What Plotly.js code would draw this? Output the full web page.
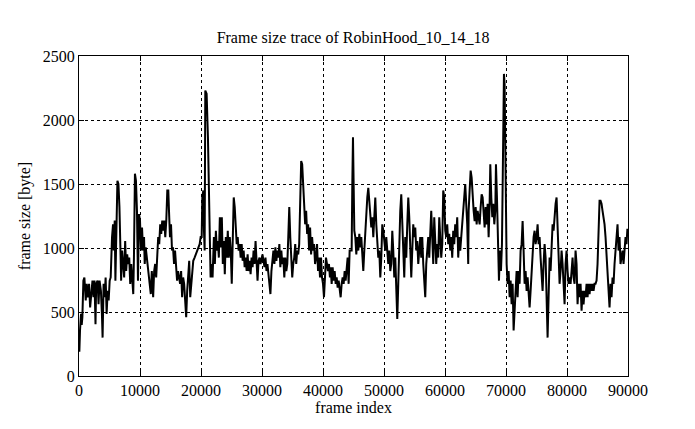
<!DOCTYPE html>
<html>
<head>
<meta charset="utf-8">
<script src="https://cdn.plot.ly/plotly-3.0.1.min.js"></script>
<style>html,body{margin:0;padding:0;background:#fff;}#chart{width:695px;height:429px;}</style>
</head>
<body>
<div id="chart"></div>
<script>
var chartTitle = "Frame size trace of RobinHood_10_14_18";
var xLabel = "frame index";
var yLabel = "frame size [byte]";
var xTicks = [0,10000,20000,30000,40000,50000,60000,70000,80000,90000];
var yTicks = [0,500,1000,1500,2000,2500];

var frames = [
0,55,166,331,442,552,718,884,1105,1271,1436,1657,1823,1989,2210,2376,2541,2707,2818,3039,3204,3370,3591,3757,3867,4033,4199,4365,4530,4696,4862,5028,5193,5414,5580,5691,5856,5967,6133,6298,6464,6630,6796,6906,7072,7238,7403,7569,7735,7900,8066,8232,8398,8564,8785,8895,9006,9171,9337,9503,9669,9834,10000,10166,10332,10497,10663,10774,10940,11105,11271,11437,11602,11768,11934,12155,12320,12486,12652,12818,12984,13150,13315,13481,13647,13813,13978,14144,14310,14476,14641,14752,14918,15083,15249,15415,15581,15746,15912,16078,16244,16409,16575,16741,16906,17072,17238,17404,17570,17735,17901,18067,18232,18398,18564,18730,18951,19172,19393,19614,19780,19945,20111,
20217,20379,20488,20596,20705,20921,21138,21301,21409,21572,21734,21897,22114,22276,22439,22602,22764,22927,23089,23252,23415,23577,23740,23902,24065,24228,24390,24553,24715,24878,25041,25203,25366,25528,25691,25854,26016,26179,26341,26504,26667,26829,26992,27154,27317,27480,27642,27805,27967,28130,28293,28455,28618,28780,28943,29106,29268,29431,29593,29756,29919,30081,30244,30406,30569,30732,30894,31057,31219,31382,31545,31707,31870,32032,32195,32358,32520,32683,32845,33008,33171,33333,33496,33658,33821,33984,34146,34309,34471,34634,34797,34959,35122,35284,35447,35610,35772,35935,36097,36260,36423,36585,36748,36910,37073,37236,37398,37561,37723,37886,38049,38211,38374,38536,38699,38862,39024,39187,39349,39512,39675,39837,40000,40162,40325,40488,40650,40813,40975,41138,
41256,41420,41583,41747,41911,42075,42239,42402,42566,42730,42894,43058,43221,43385,43549,43713,43877,44040,44204,44368,44532,44696,44805,44914,45023,45132,45296,45460,45624,45788,45951,46115,46279,46443,46607,46770,46934,47098,47262,47426,47589,47753,47917,48081,48245,48408,48572,48736,48900,49064,49227,49391,49555,49719,49883,50046,50210,50374,50538,50702,50865,51029,51193,51357,51521,51684,51848,52012,52176,52340,52503,52667,52831,52995,53159,53322,53486,53650,53814,53978,54141,54305,54469,54633,54797,54960,55124,55288,55452,55616,55779,55943,56107,56271,56435,56598,56762,56926,57090,57254,57417,57581,57745,57909,58073,58236,58400,58564,58728,58892,59055,59219,59383,59547,59711,59874,60038,60202,60366,60530,60693,60857,61021,61185,61349,61512,61676,61840,62004,62168,62331,62495,62659,62823,62987,63150,63314,63478,63642,63806,
63877,64040,64204,64368,64532,64696,64859,65023,65187,65351,65515,65678,65842,66006,66170,66334,66497,66661,66825,66989,67153,67316,67425,67589,67753,67917,68081,68245,68354,68518,68682,68846,69009,69173,69337,69446,69555,69664,69773,69883,69992,70101,70265,70429,70593,70757,70920,71084,71248,71412,71576,71740,71904,72067,72231,72395,72559,72723,72886,73050,73214,73378,73542,73705,73869,74033,74197,74361,74525,74688,74852,75016,75180,75344,75507,75671,75835,75999,76163,76326,76490,76654,76818,76982,77146,77309,77473,77637,77801,77965,78128,78292,78456,78620,78784,78947,79111,79275,79439,79603,79766,79930,80094,80258,80422,80585,80749,80913,81077,81241,81404,81568,81732,81896,82060,82223,82387,82551,82715,82879,83042,83206,83370,83534,83698,83861,84025,84189,84353,84517,84680,84844,85008,85172,85336,85499,85663,85827,85991,86155,86318,86482,86646,86810,86974,87137,87301,87465,87629,87793,87956,88120,88284,88448,88612,88775,88939,89103,89267,89431,89594,89758,89900
];
var sizes = [
300,190,355,485,400,460,745,770,590,720,615,720,535,665,745,615,745,405,720,745,560,745,665,485,300,720,615,770,485,665,590,745,770,1085,1185,980,1215,745,1085,1525,1500,1320,980,745,980,875,770,1055,820,950,875,925,720,875,720,640,925,1580,1525,1290,745,1265,1215,980,1160,980,1085,875,1005,925,850,770,720,640,820,615,820,875,770,980,1085,1030,1185,1110,1215,1135,1215,1085,1215,1450,1450,1290,1085,1185,980,1005,875,980,875,745,820,745,720,820,615,770,720,590,460,665,770,900,615,720,850,900,925,950,980,1005,1030,1085,1085,
1395,1450,1135,980,2230,2205,1865,1450,1085,770,875,770,1085,875,1135,980,1055,925,1240,1005,1240,875,1055,795,1085,925,1135,925,1085,980,720,1240,1395,1320,1135,1030,1085,980,1030,925,1030,900,980,850,925,820,950,820,900,795,925,850,980,875,1055,925,745,900,925,875,925,950,900,850,925,820,875,770,720,640,820,925,980,875,1005,900,980,925,1030,850,980,875,925,770,925,820,875,1085,1320,1085,925,770,875,925,1030,875,980,950,1030,1395,1680,1655,1450,1290,1185,1290,1110,1185,980,1160,950,1085,980,1030,875,925,1030,820,925,770,925,770,720,615,770,925,875,820,875,770,
850,720,850,745,820,720,770,690,745,665,615,720,770,720,820,745,875,925,720,980,980,980,1500,1865,1500,1135,1085,950,1085,980,1110,1005,1085,925,820,980,1135,1290,1395,1470,1370,1290,1160,1240,1085,1240,1395,1185,1030,925,980,770,925,1185,1135,1055,980,1085,980,875,980,820,875,1135,980,770,925,665,445,720,1085,1290,1420,1185,980,770,1085,925,1185,1395,1240,980,770,980,1185,1085,1160,980,1055,875,980,1085,925,1085,875,720,615,875,980,1085,925,1085,1290,1085,875,1240,1055,875,1030,925,1240,1030,925,1030,1450,1395,1135,1085,1185,1030,1110,980,1085,925,1135,1030,1185,1085,1240,925,1085,980,1085,1135,1240,1345,1500,1345,1185,875,
1290,1450,1605,1550,1395,1290,1210,1320,1185,1290,1240,1185,1320,1420,1395,1240,1160,1320,1185,1345,1085,1345,1655,1395,1240,1345,1185,1290,1655,1395,1085,745,980,820,1030,1500,1915,2360,2280,1760,1085,875,720,820,615,745,560,720,355,510,720,820,615,820,720,980,1030,1210,980,720,820,665,770,615,535,665,820,925,1085,1135,1030,1085,1185,1030,1085,925,770,665,875,1030,925,560,300,615,925,820,1030,1185,1135,1290,1345,1395,1185,875,720,820,980,875,720,560,875,980,820,720,770,720,820,925,770,720,980,875,560,720,615,720,510,665,560,665,615,720,615,720,640,720,665,720,665,720,720,745,875,1085,1370,1370,1345,1290,1240,1185,1085,925,820,665,535,720,615,770,720,875,980,1085,1185,980,1085,875,925,980,875,1030,1085,1030,1150
];

var trace = {
  x: frames, y: sizes, type: 'scatter', mode: 'lines',
  line: {color: '#000000', width: 2}, showlegend: false, hoverinfo: 'skip'
};

var fontFam = '"Liberation Serif", "DejaVu Serif", serif';
var layout = {
  width: 695, height: 429,
  margin: {l: 79, r: 67, t: 56, b: 53},
  paper_bgcolor: '#ffffff', plot_bgcolor: '#ffffff',
  font: {family: fontFam, size: 16, color: '#000'},
  title: {text: chartTitle, font: {family: fontFam, size: 16, color: '#000'}, x: 0.508, xanchor: 'center', y: 0.913, yanchor: 'middle'},
  xaxis: {
    range: [0, 90000], tickvals: xTicks, ticktext: xTicks.map(String),
    showline: true, linecolor: '#000', linewidth: 1, mirror: 'ticks',
    ticks: 'inside', ticklen: 5, tickcolor: '#000', tickwidth: 1,
    showgrid: true, gridcolor: '#000', gridwidth: 1, griddash: 'dot',
    zeroline: false, tickfont: {family: fontFam, size: 16, color: '#000'},
    title: {text: xLabel, font: {family: fontFam, size: 16, color: '#000'}, standoff: 2}
  },
  yaxis: {
    range: [0, 2500], tickvals: yTicks, ticktext: yTicks.map(String),
    showline: true, linecolor: '#000', linewidth: 1, mirror: 'ticks',
    ticks: 'inside', ticklen: 5, tickcolor: '#000', tickwidth: 1,
    showgrid: true, gridcolor: '#000', gridwidth: 1, griddash: 'dot',
    zeroline: false, tickfont: {family: fontFam, size: 16, color: '#000'},
    title: {text: yLabel, font: {family: fontFam, size: 16, color: '#000'}, standoff: 8}
  }
};

Plotly.newPlot('chart', [trace], layout, {displayModeBar: false, staticPlot: true});
</script>
</body>
</html>
